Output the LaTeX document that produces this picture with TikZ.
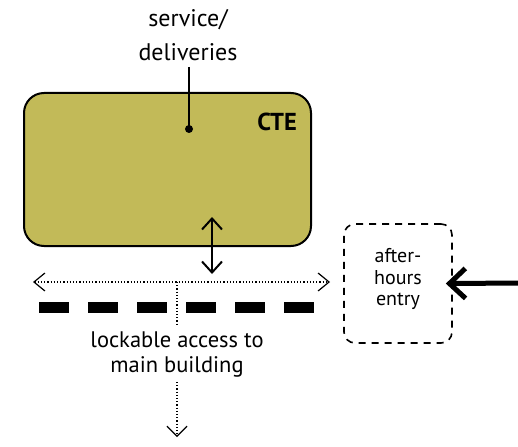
\documentclass[tikz,border=0pt]{standalone}
\usepackage{fontspec}
\setmainfont{PT Sans}
\usetikzlibrary{arrows.meta}
\definecolor{olive}{RGB}{194,186,88}
\tikzset{
  ctebox/.style={draw=black,fill=olive,line width=2pt,rounded corners=20pt,minimum width=287pt,minimum height=153pt,inner sep=0pt},
  ahbox/.style={draw=black,line width=1.6pt,dash pattern=on 7pt off 6pt,rounded corners=11pt,minimum width=108pt,minimum height=119pt,inner sep=0pt,align=center,text depth=13pt,font=\fontsize{20}{21.5}\selectfont},
  lbl/.style={align=center,inner sep=2pt},
  dotline/.style={line width=1.2pt,dash pattern=on 1.2pt off 2pt},
}
\begin{document}
\begin{tikzpicture}[x=1pt,y=-1pt]
\useasboundingbox (0,0) rectangle (518,446);
% main box
\node[ctebox] (cte) at (167.5,169.5) {};
\node[anchor=east,font=\fontsize{24.5}{28}\selectfont\bfseries,inner sep=0pt] (ctelabel) at (297,122) {CTE};
% service label
\node[lbl,font=\fontsize{24}{34}\selectfont,anchor=base] (service) at (188,61) {service/\\deliveries};
\coordinate (dot) at (189,129);
\draw[line width=1.6pt] (189,67) -- (dot);
\fill (dot) circle (4pt);
% double arrow
\coordinate (da1) at (212,217);
\coordinate (da2) at (212,274);
\draw[line width=2pt,{Straight Barb[length=11pt,width=20pt]}-{Straight Barb[length=11pt,width=20pt]}] (da1) -- (da2);
% dotted horizontal arrow
\coordinate (hl) at (33,282);
\coordinate (hr) at (330,282);
\coordinate (hm) at (177,282);
\draw[dotline,{Straight Barb[length=11pt,width=18pt]}-{Straight Barb[length=11pt,width=18pt]}] (hl) -- (hr);
% barrier
\coordinate (b1) at (39,307);
\coordinate (b2) at (314,307);
\draw[line width=11pt,dash pattern=on 30pt off 19pt] (b1) -- (b2);
% lockable text
\node[lbl,font=\fontsize{22.5}{25}\selectfont,anchor=base,inner ysep=5pt] (lock) at (177,372) {lockable access to\\main building};
\coordinate (lockend) at (177,437);
\draw[dotline] (hm) -- (lock.north);
\draw[dotline,-{Straight Barb[length=10pt,width=20pt]}] (lock.south) -- (lockend);
% after-hours
\node[ahbox] (ah) at (398,283.5) {after-\\hours\\entry};
\coordinate (ain) at (518,283);
\draw[line width=5pt,shorten >=-7pt,-{Straight Barb[length=16pt,width=30pt]}] (ain) -- (ah.east);
\end{tikzpicture}
\end{document}
